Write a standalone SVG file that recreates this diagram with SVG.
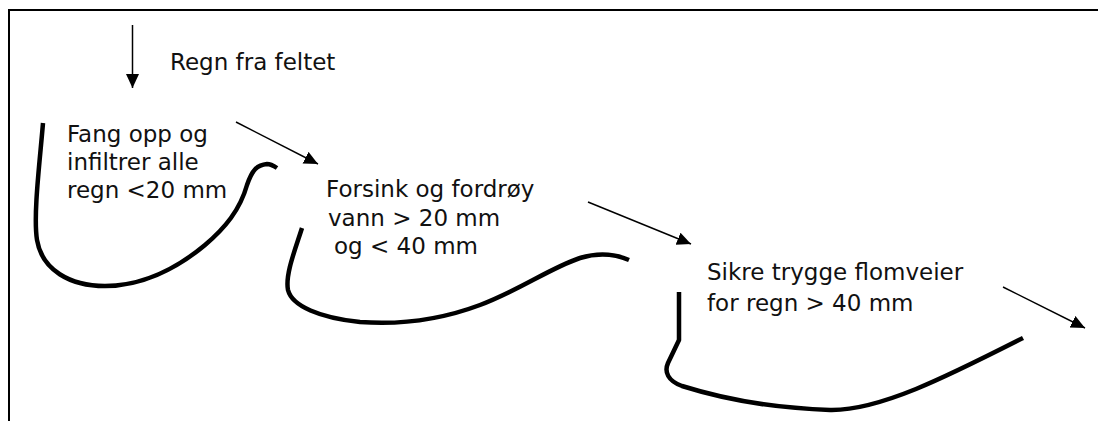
<svg xmlns="http://www.w3.org/2000/svg" width="1098" height="421" viewBox="0 0 1098 421">
<style>
.lbl{font-family:"DejaVu Sans","Verdana",sans-serif;font-size:23px;fill:#111}
.basin{fill:none;stroke:#000;stroke-width:4.5;stroke-linecap:butt;stroke-linejoin:round}
.arr{fill:none;stroke:#000;stroke-width:1.5}
.frame{fill:none;stroke:#000;stroke-width:2}
</style>
<defs>
<marker id="ah" markerUnits="userSpaceOnUse" markerWidth="15" markerHeight="14" refX="14" refY="6.5" orient="auto">
<path d="M0,0 L14,6.5 L0,13 z" fill="#000"/>
</marker>
</defs>
<rect width="1098" height="421" fill="#fff"/>
<path class="frame" d="M9,421 L9,10 L1098,10"/>
<g id="rain">
<text class="lbl" x="170" y="70">Regn fra feltet</text>
</g>
<g id="stage1">
<path class="basin" d="M43,123 C40,160 33,215 37,240 C42,270 70,286 105,286 C140,286 175,270 205,245 C225,228 240,210 247,185 C252,170 257,165 267,164 C271,164 274,166 277,168"/>
<text class="lbl" x="67" y="142">Fang opp og</text>
<text class="lbl" x="67" y="170">infiltrer alle</text>
<text class="lbl" x="67" y="198">regn &lt;20 mm</text>
</g>
<g id="stage2">
<path class="basin" d="M302,228 C295,250 285,275 288,290 C292,306 320,318 360,322 C400,325 440,320 480,305 C520,290 550,268 580,258 C600,252 615,254 629,260"/>
<text class="lbl" x="326" y="197">Forsink og fordrøy</text>
<text class="lbl" x="328" y="226">vann &gt; 20 mm</text>
<text class="lbl" x="334" y="254">og &lt; 40 mm</text>
</g>
<g id="stage3">
<path class="basin" d="M679,292 L679,340 L668,363 C664,372 668,381 682,386 C720,398 770,408 830,410 C880,411 950,375 1023,338"/>
<text class="lbl" x="707" y="280">Sikre trygge flomveier</text>
<text class="lbl" x="707" y="311">for regn &gt; 40 mm</text>
</g>
<g id="connectors">
<line class="arr" x1="132.5" y1="25" x2="132.5" y2="88" marker-end="url(#ah)"/>
<line class="arr" x1="236" y1="122" x2="318" y2="164" marker-end="url(#ah)"/>
<line class="arr" x1="588" y1="202" x2="691" y2="244" marker-end="url(#ah)"/>
<line class="arr" x1="1003" y1="287" x2="1085" y2="328" marker-end="url(#ah)"/>
</g>
</svg>
